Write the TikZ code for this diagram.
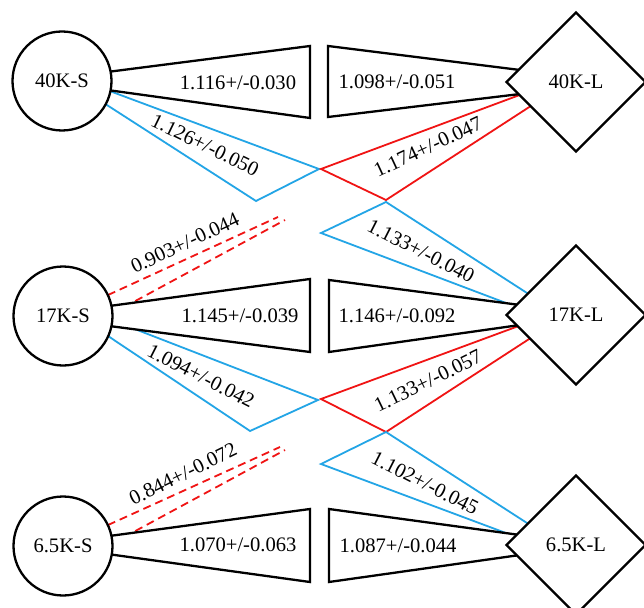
\documentclass[tikz,border=0pt]{standalone}
\usepackage{fontspec}
\setmainfont{Liberation Serif}
\usetikzlibrary{shapes.geometric,backgrounds}
\definecolor{lblue}{RGB}{35,165,230}
\definecolor{lred}{RGB}{240,20,20}
\begin{document}
\begin{tikzpicture}[x=1bp,y=-1bp,
  every node/.style={font=\fontsize{20.6bp}{24bp}\selectfont},
  snode/.style={circle,draw,line width=2.3bp,fill=white,minimum size=99bp,inner sep=0pt,outer sep=0pt},
  lnode/.style={diamond,draw,line width=2.3bp,fill=white,minimum size=139bp,inner sep=0pt,outer sep=0pt},
  wedgebox/.style={draw,line width=2.3bp,fill=white,line join=miter},
  blueline/.style={draw=lblue,line width=1.8bp},
  redline/.style={draw=lred,line width=1.8bp},
  reddash/.style={draw=lred,line width=1.8bp,dash pattern=on 8bp off 5bp},
  lab/.style={inner sep=0pt}]
\useasboundingbox (0,0) rectangle (644,608);

% nodes
\node[snode] (s40) at (62,81) {40K-S};
\node[snode] (s17) at (63,316) {17K-S};
\node[snode] (s6) at (63,546) {6.5K-S};
\node[lnode] (l40) at (576,82) {40K-L};
\node[lnode] (l17) at (576,315) {17K-L};
\node[lnode] (l6) at (576,545) {6.5K-L};

% coordinates of wedge tips
\coordinate (a40t) at (310,46);  \coordinate (a40b) at (310,118);
\coordinate (a17t) at (310,279); \coordinate (a17b) at (310,352);
\coordinate (a6t) at (310,509);  \coordinate (a6b) at (310,582);
\coordinate (b40t) at (328,46);  \coordinate (b40b) at (328,117);
\coordinate (b17t) at (329,280); \coordinate (b17b) at (329,352);
\coordinate (b6t) at (329,509);  \coordinate (b6b) at (329,582);

\coordinate (bs40r) at (319,169); \coordinate (bs40d) at (256,201);
\coordinate (rl40l) at (321,169); \coordinate (rl40d) at (386,200);
\coordinate (ds17u) at (278,217); \coordinate (ds17l) at (285,220);
\coordinate (bs17r) at (318,400); \coordinate (bs17d) at (250,431);
\coordinate (bl17u) at (386,202); \coordinate (bl17l) at (321,233);
\coordinate (rl17l) at (321,399); \coordinate (rl17d) at (386,432);
\coordinate (ds6u) at (280,447);  \coordinate (ds6l) at (285,450);
\coordinate (bl6u) at (386,432);  \coordinate (bl6l) at (321,464);

\begin{scope}[on background layer]
\fill[white] (0,0) rectangle (644,608);
% coloured connectors
\draw[blueline] (s40.-12) -- (bs40r) -- (bs40d) -- (s40.-28);
\draw[redline] (l40.193) -- (rl40l) -- (rl40d) -- (l40.208);
\draw[reddash] (s17.25) -- (ds17u);
\draw[reddash] (s17.3) -- (ds17l);
\draw[blueline] (s17.-5) -- (bs17r) -- (bs17d) -- (s17.-24);
\draw[blueline] (l17.156) -- (bl17u) -- (bl17l) -- (l17.172);
\draw[redline] (l17.191) -- (rl17l) -- (rl17d) -- (l17.207);
\draw[reddash] (s6.25) -- (ds6u);
\draw[reddash] (s6.3) -- (ds6l);
\draw[blueline] (l6.156) -- (bl6u) -- (bl6l) -- (l6.172);
% black wedges
\draw[wedgebox] (s40.11) -- (a40t) -- (a40b) -- (s40.-11) -- cycle;
\draw[wedgebox] (s17.12) -- (a17t) -- (a17b) -- (s17.-12) -- cycle;
\draw[wedgebox] (s6.12) -- (a6t) -- (a6b) -- (s6.-10) -- cycle;
\draw[wedgebox] (l40.168) -- (b40t) -- (b40b) -- (l40.192) -- cycle;
\draw[wedgebox] (l17.170) -- (b17t) -- (b17b) -- (l17.190) -- cycle;
\draw[wedgebox] (l6.170) -- (b6t) -- (b6b) -- (l6.190) -- cycle;
\end{scope}

% labels
\node[lab] (t1) at (238,83) {1.116+/-0.030};
\node[lab] (t2) at (397,82) {1.098+/-0.051};
\node[lab,rotate=-26] (t3) at (205,145) {1.126+/-0.050};
\node[lab,rotate=25] (t4) at (428,147) {1.174+/-0.047};
\node[lab,rotate=25] (t5) at (185,243) {0.903+/-0.044};
\node[lab] (t6) at (240,316) {1.145+/-0.039};
\node[lab] (t7) at (397,316) {1.146+/-0.092};
\node[lab,rotate=-27] (t8) at (201,376) {1.094+/-0.042};
\node[lab,rotate=-27] (t9) at (421,251) {1.133+/-0.040};
\node[lab,rotate=26] (t10) at (428,381) {1.133+/-0.057};
\node[lab,rotate=26] (t11) at (183,474) {0.844+/-0.072};
\node[lab] (t12) at (238,545) {1.070+/-0.063};
\node[lab] (t13) at (398,546) {1.087+/-0.044};
\node[lab,rotate=-27] (t14) at (425,483) {1.102+/-0.045};
\end{tikzpicture}
\end{document}
